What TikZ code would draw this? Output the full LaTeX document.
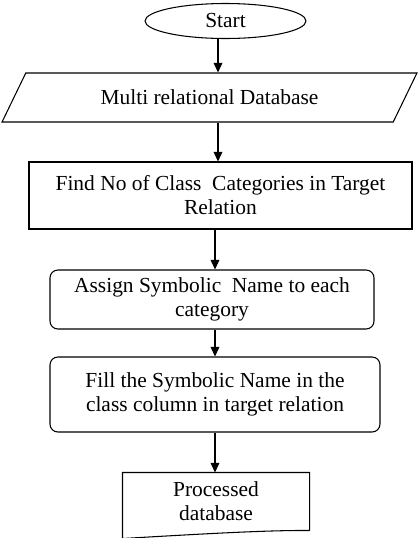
\documentclass[tikz,border=0pt]{standalone}
\usepackage{fontspec}
\setmainfont{Liberation Serif}
\usepackage{tikz}
\usetikzlibrary{shapes,arrows.meta,positioning,calc}

\begin{document}
\begin{tikzpicture}[
  >={Triangle[length=5.5pt,width=5pt]},
  line width=0.6pt,
  every node/.style={font=\fontsize{12.2}{13.6}\selectfont, align=center, inner sep=0pt},
  stepbox/.style={draw, rectangle, rounded corners=4.5pt},
]
\useasboundingbox (0,0) rectangle (8.4,-10.76);

% Start and input data
\node[draw, ellipse, minimum width=3.22cm, minimum height=0.7cm] (start) at (4.51,-0.42) {Start};
\node[draw, trapezium, trapezium left angle=47, trapezium right angle=133,
      trapezium stretches=true, minimum width=8.3cm, minimum height=0.98cm]
      (input) at (4.19,-1.95) {Multi relational Database};

% Processing steps
\node[draw, rectangle, minimum width=7.66cm, minimum height=1.34cm] (find) at (4.41,-3.91)
      {Find No of Class~ Categories in Target\\Relation};
\node[stepbox, minimum width=6.48cm, minimum height=1.18cm] (assign) at (4.24,-5.99)
      {Assign Symbolic~ Name to each\\category};
\node[stepbox, minimum width=6.6cm, minimum height=1.5cm] (fill) at (4.3,-7.89)
      {Fill the Symbolic Name in the\\class column in target relation};

% Output document
\node[minimum width=3.72cm, minimum height=1.14cm] (doc) at (4.32,-10.03) {Processed\\database};
\draw (doc.south east) -- (doc.north east) -- (doc.north west) -- ($(doc.south west)+(0,-0.16)$)
      .. controls (4.0,-10.68) and (5.4,-10.6) .. (doc.south east);

% Arrows
\coordinate (upper) at (4.36,0);
\draw[->] (upper |- start.south) -- (upper |- input.north);
\draw[->] (upper |- input.south) -- (upper |- find.north);
\draw[->] (find.south -| fill.north) -- (assign.north -| fill.north);
\draw[->] (assign.south -| fill.north) -- (fill.north);
\draw[->] (fill.south) -- (doc.north -| fill.south);
\end{tikzpicture}
\end{document}
